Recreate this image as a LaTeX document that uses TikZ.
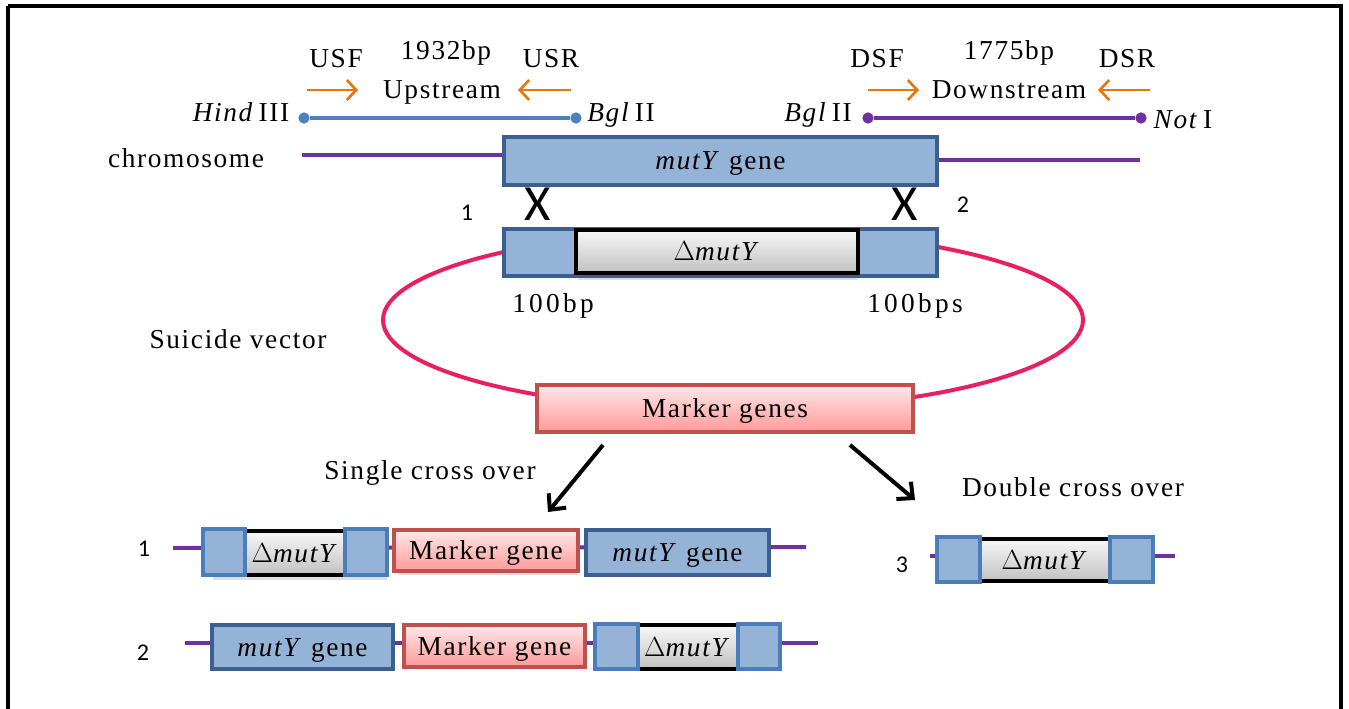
\documentclass[tikz,border=0pt]{standalone}
\usepackage{fontspec}
\setmainfont{Liberation Serif}[LetterSpace=6]
\newfontfamily\numfont{Carlito}
\newfontfamily\bpfont{Liberation Serif}[LetterSpace=12]
\usetikzlibrary{fit,arrows.meta}
\definecolor{boxblue}{HTML}{95B3D7}
\definecolor{darkblue}{HTML}{3B5F8E}
\definecolor{midblue}{HTML}{4A7EBB}
\definecolor{chrpurple}{HTML}{7030A0}
\definecolor{vecpink}{HTML}{E9205F}
\definecolor{markred}{HTML}{C0504D}
\definecolor{orangearr}{HTML}{E8760F}
\definecolor{lineblue}{HTML}{4F81BD}
\tikzset{
  txt/.style={font=\fontsize{20.5}{23}\selectfont, inner sep=0pt, text height=13.5pt, text depth=0pt},
  num/.style={font=\numfont\fontsize{18}{20}\selectfont, inner sep=0pt},
  crossmark/.style={font=\numfont\fontsize{38}{40}\selectfont, inner sep=0pt},
  genebox/.style={draw=darkblue, fill=boxblue, line width=2.8pt, inner sep=0pt},
  flank/.style={draw=midblue, fill=boxblue, line width=2.8pt, inner sep=0pt},
  delbox/.style={draw=black, line width=3.4pt, top color=gray!6, bottom color=gray!48, inner sep=0pt},
  markbox/.style={draw=markred, line width=2.8pt, top color=red!9, bottom color=red!40, inner sep=0pt},
  shadowbox/.style={fill=gray!25, draw=none, inner sep=0pt},
  chrline/.style={chrpurple, line width=3pt},
  primer/.style={orangearr, line width=2pt, -{Straight Barb[length=7pt,width=15pt,line width=2pt]}},
  bigarrow/.style={black, line width=3pt, -{Straight Barb[length=9pt,width=17pt]}},
  dotend/.style={circle, inner sep=0pt, minimum size=8.5pt}
}
\begin{document}
\begin{tikzpicture}[x=0.75pt,y=-0.75pt]
\useasboundingbox (0,0) rectangle (1349,709);
% frame
\draw[line width=2.8pt] (8,6) -- (8,715) (8,6) -- (1341,6) -- (1341,715);

% ---------- upstream ----------
\node[txt] (usf) at (336,59) {USF};
\node[txt] (ubp) at (446,51) {1932bp};
\node[txt] (usr) at (551,59) {USR};
\node[txt] (up) at (442,90) {Upstream};
\coordinate (usfa) at (307,90); \coordinate (usfb) at (358,90);
\coordinate (usra) at (571,90); \coordinate (usrb) at (518,90);
\draw[primer] (usfa) -- (usfb);
\draw[primer] (usra) -- (usrb);
\node[txt] (hind) at (241,113) {\textit{Hind}\,III};
\node[txt] (bgl1) at (621,113) {\textit{Bgl}\,II};
\node[dotend, fill=lineblue] (ua) at (304,118) {};
\node[dotend, fill=lineblue] (ub) at (576,118) {};
\draw[lineblue, line width=3pt] (ua) -- (ub);

% ---------- downstream ----------
\node[txt] (dsf) at (877,59) {DSF};
\node[txt] (dbp) at (1009,51) {1775bp};
\node[txt] (dsr) at (1127,59) {DSR};
\node[txt] (down) at (1009,90) {Downstream};
\coordinate (dsfa) at (868,90); \coordinate (dsfb) at (919,90);
\coordinate (dsra) at (1150,90); \coordinate (dsrb) at (1098,90);
\draw[primer] (dsfa) -- (dsfb);
\draw[primer] (dsra) -- (dsrb);
\node[txt] (bgl2) at (818,113) {\textit{Bgl}\,II};
\node[txt] (noti) at (1183,120) {\textit{Not}\,I};
\node[dotend, fill=chrpurple] (da) at (868,118) {};
\node[dotend, fill=chrpurple] (db) at (1141,118) {};
\draw[chrpurple, line width=3pt] (da) -- (db);

% ---------- chromosome ----------
\node[txt] (chr) at (186,159) {chromosome};
\coordinate (chrl) at (302,155);
\coordinate (chrr) at (1140,160);
\node[genebox, fit={(504,137) (937,185)}] (gene) {};
\node[txt] at (gene.center) {\textit{mutY} gene};
\draw[chrline] (chrl) -- (chrl -| gene.west);
\draw[chrline] (gene.east |- chrr) -- (chrr);

% crossover marks
\node[crossmark] (x1) at (538,204) {X};
\node[crossmark] (x2) at (905,204) {X};
\node[num] (n1) at (467,213) {1};
\node[num] (n2) at (963,205) {2};

% ---------- suicide vector ----------
\draw[vecpink, line width=3pt] (733,320) ellipse [x radius=350, y radius=90];
\node[shadowbox, fit={(578,274) (858,280)}] (vsh) {};
\node[genebox, fit={(504,229) (937,276)}] (vec) {};
\node[delbox, fit={(576,230) (858,273)}] (vdel) {};
\node[txt] at (vdel.center) {$\Delta$\textit{mutY}};
\node[txt, font=\bpfont\fontsize{20.5}{23}\selectfont] (l100a) at (553,303) {100bp};
\node[txt, font=\bpfont\fontsize{20.5}{23}\selectfont] (l100b) at (915,303) {100bps};
\node[txt] (sv) at (238,340) {Suicide vector};
\node[markbox, fit={(537,385) (913,432)}] (mark) {};
\node[txt] at (mark.center) {Marker genes};

% ---------- arrows ----------
\coordinate (a1s) at (603,445); \coordinate (a1e) at (548,512);
\coordinate (a2s) at (850,445); \coordinate (a2e) at (915,500);
\draw[bigarrow] (a1s) -- (a1e);
\draw[bigarrow] (a2s) -- (a2e);
\node[txt] (sco) at (430,470) {Single cross over};
\node[txt] (dco) at (1073,487) {Double cross over};

% ---------- row 1 ----------
\node[num] (r1) at (144,549) {1};
\coordinate (r1l) at (173,548); \coordinate (r1r) at (806,547);
\draw[chrline] (r1l) -- (r1r);
\node[shadowbox, fit={(213,574) (387,580)}] (r1sh) {};
\node[shadowbox, fit={(398,570) (578,575)}] (r1sh2) {};
\node[delbox, fit={(225,531) (365,575)}] (r1del) {};
\node[flank, fit={(203,529) (245,575)}] (r1fa) {};
\node[flank, fit={(345,529) (387,575)}] (r1fb) {};
\node[txt] at (r1del.center) {$\Delta$\textit{mutY}};
\node[markbox, fit={(394,530) (578,571)}] (r1m) {};
\node[txt] at (r1m.center) {Marker gene};
\node[genebox, fit={(586,530) (769,575)}] (r1g) {};
\node[txt] at (r1g.center) {\textit{mutY} gene};

% ---------- row 2 ----------
\node[num] (r2) at (143,653) {2};
\coordinate (r2l) at (185,643); \coordinate (r2r) at (818,643);
\draw[chrline] (r2l) -- (r2r);
\node[genebox, fit={(212,625) (393,669)}] (r2g) {};
\node[txt] at (r2g.center) {\textit{mutY} gene};
\node[markbox, fit={(404,625) (585,667)}] (r2m) {};
\node[txt] at (r2m.center) {Marker gene};
\node[delbox, fit={(610,625) (765,669)}] (r2del) {};
\node[flank, fit={(595,624) (638,669)}] (r2fa) {};
\node[flank, fit={(738,624) (780,669)}] (r2fb) {};
\node[txt] at (r2del.center) {$\Delta$\textit{mutY}};

% ---------- row 3 ----------
\node[num] (r3) at (902,565) {3};
\coordinate (r3l) at (930,556); \coordinate (r3r) at (1175,556);
\draw[chrline] (r3l) -- (r3r);
\node[delbox, fit={(960,539) (1130,581)}] (r3del) {};
\node[flank, fit={(937,537) (980,582)}] (r3fa) {};
\node[flank, fit={(1110,537) (1153,582)}] (r3fb) {};
\node[txt] at (r3del.center) {$\Delta$\textit{mutY}};
\end{tikzpicture}
\end{document}
